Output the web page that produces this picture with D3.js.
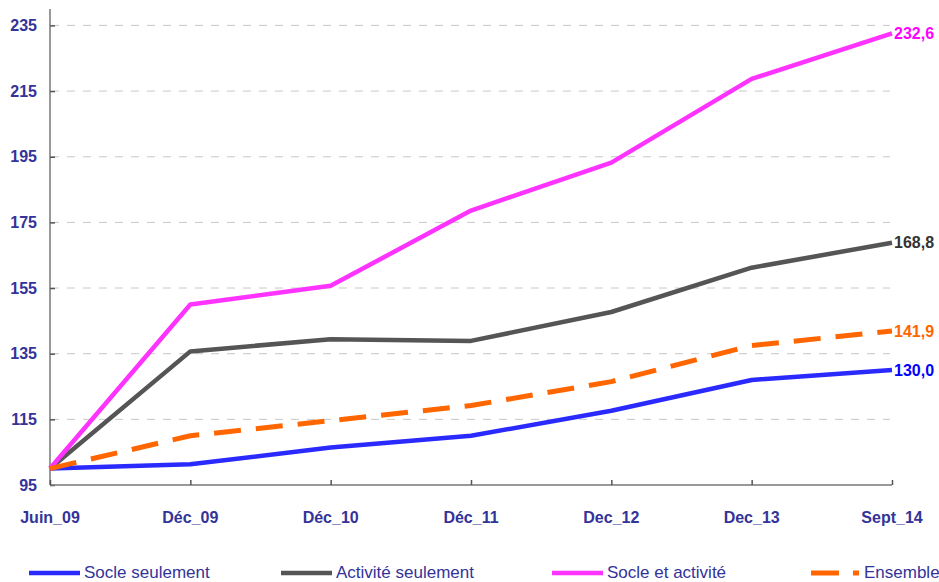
<!DOCTYPE html>
<html><head><meta charset="utf-8">
<script src="https://cdn.jsdelivr.net/npm/d3@7"></script>
<style>body{margin:0;background:#fff}svg{display:block}</style>
</head><body><svg id="c" width="939" height="582"></svg>
<script>
const categories = ["Juin_09","Déc_09","Déc_10","Déc_11","Dec_12","Dec_13","Sept_14"];
const socleSeulement = [100.0,101.3,106.4,110.0,117.6,127.0,130.0];
const activiteSeulement = [100.0,135.7,139.4,138.9,147.7,161.2,168.8];
const socleEtActivite = [100.0,150.0,155.7,178.6,193.2,218.7,232.6];
const ensemble = [100.0,110.0,114.6,119.2,126.5,137.5,141.9];
const yTicks = [95,115,135,155,175,195,215,235];
const seriesNames = ["Socle seulement","Activité seulement","Socle et activité","Ensemble"];
const endLabels = ["130,0","168,8","232,6","141,9"];

const series = [
  {name:seriesNames[0], values:socleSeulement, color:"#2a2aff", label:endLabels[0], lab:"#0000ff", dash:null},
  {name:seriesNames[1], values:activiteSeulement, color:"#555555", label:endLabels[1], lab:"#333333", dash:null},
  {name:seriesNames[2], values:socleEtActivite, color:"#ff33ff", label:endLabels[2], lab:"#ff00ff", dash:null},
  {name:seriesNames[3], values:ensemble, color:"#ff6600", label:endLabels[3], lab:"#ff6600", dash:"27,15"}
];
const font = "'Comic Sans MS','Liberation Sans',Arial,sans-serif";
const svg = d3.select("#c");
const x = d3.scalePoint().domain(categories).range([50,892]);
const y = d3.scaleLinear().domain([95,240]).range([485,9]);

// grid
svg.append("g").selectAll("line").data(yTicks.filter(t=>t>95)).join("line")
  .attr("x1",51).attr("x2",890).attr("y1",d=>y(d)).attr("y2",d=>y(d))
  .attr("stroke","#c8c8c8").attr("stroke-width",1).attr("stroke-dasharray","8,8");

// y axis
const ya = svg.append("g").attr("transform","translate(50,0)")
  .call(d3.axisRight(y).tickValues(yTicks).tickSize(5).tickFormat(""));
ya.select(".domain").attr("stroke","#777").attr("stroke-width",1.5).attr("d","M0,9V485");
ya.selectAll(".tick line").attr("stroke","#555").attr("stroke-width",1.5);
svg.append("g").selectAll("text").data(yTicks).join("text")
  .attr("x",37).attr("y",d=>y(d)).attr("dy","0.36em").attr("text-anchor","end")
  .attr("font-family",font).attr("font-weight","bold").attr("font-size",16).attr("fill","#333399")
  .text(d=>d);

// x axis
const xa = svg.append("g").attr("transform","translate(0,485)")
  .call(d3.axisTop(x).tickSize(5).tickFormat(""));
xa.select(".domain").attr("stroke","#777").attr("stroke-width",1.5).attr("d","M50,0H892");
xa.selectAll(".tick line").attr("stroke","#555").attr("stroke-width",1.5);
svg.append("g").selectAll("text").data(categories).join("text")
  .attr("x",d=>x(d)).attr("y",523).attr("text-anchor","middle")
  .attr("font-family",font).attr("font-weight","bold").attr("font-size",16).attr("fill","#333399")
  .text(d=>d);

// lines
const line = d3.line().x((d,i)=>x(categories[i])).y(d=>y(d));
series.forEach(s=>{
  svg.append("path").datum(s.values).attr("d",line).attr("fill","none")
    .attr("stroke",s.color).attr("stroke-width",s.dash?5:4.5)
    .attr("stroke-linejoin","round")
    .attr("stroke-dasharray",s.dash);
  const last = s.values[s.values.length-1];
  svg.append("text").attr("x",x(categories[categories.length-1])+2).attr("y",y(last)).attr("dy","0.36em")
    .attr("font-family",font).attr("font-weight","bold").attr("font-size",16).attr("fill",s.lab)
    .text(s.label);
});

// legend
const legX = [29,281,552,811];
series.forEach((s,i)=>{
  const g = svg.append("g");
  if(s.dash){
    g.append("line").attr("x1",legX[i]).attr("x2",legX[i]+28).attr("y1",573).attr("y2",573)
      .attr("stroke",s.color).attr("stroke-width",5);
    g.append("line").attr("x1",legX[i]+42).attr("x2",legX[i]+48).attr("y1",573).attr("y2",573)
      .attr("stroke",s.color).attr("stroke-width",5);
  } else {
    g.append("line").attr("x1",legX[i]).attr("x2",legX[i]+51).attr("y1",573).attr("y2",573)
      .attr("stroke",s.color).attr("stroke-width",4.5);
  }
  g.append("text").attr("x",legX[i]+(s.dash?53:55)).attr("y",572).attr("dy","0.36em")
    .attr("font-family",font).attr("font-size",17).attr("fill","#333399").text(s.name);
});
</script></body></html>
